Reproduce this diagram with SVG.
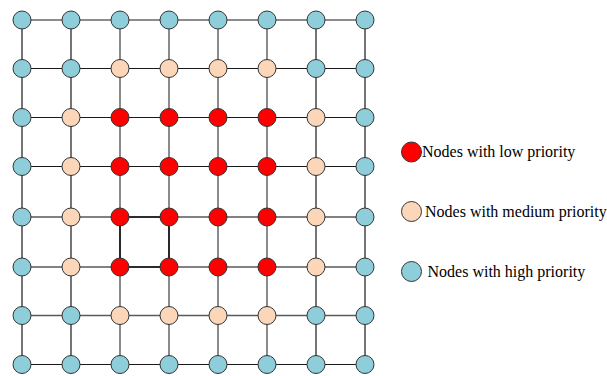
<svg xmlns="http://www.w3.org/2000/svg" width="607" height="376" viewBox="0 0 607 376">
  <style>
    .g { stroke: #1a1a1a; stroke-width: 1.2; fill: none; }
    .gl { stroke: #5a5a5a; stroke-width: 1.4; fill: none; }
    .sq { stroke: #111; stroke-width: 1.6; fill: none; }
    .n { stroke: #333; stroke-width: 1; }
    .hi { fill: #8ECDDA; }
    .me { fill: #FBD6B8; }
    .lo { fill: #FF0000; }
    .lbl { font-family: "Liberation Serif", "Times New Roman", serif; font-size: 16px; fill: #000; }
  </style>

  <!-- grid connectors -->
  <g id="connectors">
    <!-- horizontal lines -->
    <path class="g" d="M22 20H365 M22 68.5H365 M22 117.5H365 M22 166.5H365 M22 364.5H365"/>
    <path class="gl" d="M22 217H365 M22 267H365 M22 315.5H365"/>
    <!-- vertical lines -->
    <path class="g" d="M22 20V364.5 M71 20V364.5 M316 20V364.5 M365 20V364.5"/>
    <path class="gl" d="M120 20V364.5 M169 20V364.5 M218 20V364.5 M267 20V364.5"/>
    <!-- highlighted cell -->
    <path class="sq" d="M120 217H169V267H120Z"/>
  </g>

  <!-- nodes: row-major, r{row}c{col} -->
  <g id="nodes">
    <!-- row 0 -->
    <g id="r0c0"><circle class="n hi" cx="22" cy="20" r="9"/></g>
    <g id="r0c1"><circle class="n hi" cx="71" cy="20" r="9"/></g>
    <g id="r0c2"><circle class="n hi" cx="120" cy="20" r="9"/></g>
    <g id="r0c3"><circle class="n hi" cx="169" cy="20" r="9"/></g>
    <g id="r0c4"><circle class="n hi" cx="218" cy="20" r="9"/></g>
    <g id="r0c5"><circle class="n hi" cx="267" cy="20" r="9"/></g>
    <g id="r0c6"><circle class="n hi" cx="316" cy="20" r="9"/></g>
    <g id="r0c7"><circle class="n hi" cx="365" cy="20" r="9"/></g>
    <!-- row 1 -->
    <g id="r1c0"><circle class="n hi" cx="22" cy="68.5" r="9"/></g>
    <g id="r1c1"><circle class="n hi" cx="71" cy="68.5" r="9"/></g>
    <g id="r1c2"><circle class="n me" cx="120" cy="68.5" r="9"/></g>
    <g id="r1c3"><circle class="n me" cx="169" cy="68.5" r="9"/></g>
    <g id="r1c4"><circle class="n me" cx="218" cy="68.5" r="9"/></g>
    <g id="r1c5"><circle class="n me" cx="267" cy="68.5" r="9"/></g>
    <g id="r1c6"><circle class="n hi" cx="316" cy="68.5" r="9"/></g>
    <g id="r1c7"><circle class="n hi" cx="365" cy="68.5" r="9"/></g>
    <!-- row 2 -->
    <g id="r2c0"><circle class="n hi" cx="22" cy="117.5" r="9"/></g>
    <g id="r2c1"><circle class="n me" cx="71" cy="117.5" r="9"/></g>
    <g id="r2c2"><circle class="n lo" cx="120" cy="117.5" r="9"/></g>
    <g id="r2c3"><circle class="n lo" cx="169" cy="117.5" r="9"/></g>
    <g id="r2c4"><circle class="n lo" cx="218" cy="117.5" r="9"/></g>
    <g id="r2c5"><circle class="n lo" cx="267" cy="117.5" r="9"/></g>
    <g id="r2c6"><circle class="n me" cx="316" cy="117.5" r="9"/></g>
    <g id="r2c7"><circle class="n hi" cx="365" cy="117.5" r="9"/></g>
    <!-- row 3 -->
    <g id="r3c0"><circle class="n hi" cx="22" cy="166.5" r="9"/></g>
    <g id="r3c1"><circle class="n me" cx="71" cy="166.5" r="9"/></g>
    <g id="r3c2"><circle class="n lo" cx="120" cy="166.5" r="9"/></g>
    <g id="r3c3"><circle class="n lo" cx="169" cy="166.5" r="9"/></g>
    <g id="r3c4"><circle class="n lo" cx="218" cy="166.5" r="9"/></g>
    <g id="r3c5"><circle class="n lo" cx="267" cy="166.5" r="9"/></g>
    <g id="r3c6"><circle class="n me" cx="316" cy="166.5" r="9"/></g>
    <g id="r3c7"><circle class="n hi" cx="365" cy="166.5" r="9"/></g>
    <!-- row 4 -->
    <g id="r4c0"><circle class="n hi" cx="22" cy="217" r="9"/></g>
    <g id="r4c1"><circle class="n me" cx="71" cy="217" r="9"/></g>
    <g id="r4c2"><circle class="n lo" cx="120" cy="217" r="9"/></g>
    <g id="r4c3"><circle class="n lo" cx="169" cy="217" r="9"/></g>
    <g id="r4c4"><circle class="n lo" cx="218" cy="217" r="9"/></g>
    <g id="r4c5"><circle class="n lo" cx="267" cy="217" r="9"/></g>
    <g id="r4c6"><circle class="n me" cx="316" cy="217" r="9"/></g>
    <g id="r4c7"><circle class="n hi" cx="365" cy="217" r="9"/></g>
    <!-- row 5 -->
    <g id="r5c0"><circle class="n hi" cx="22" cy="267" r="9"/></g>
    <g id="r5c1"><circle class="n me" cx="71" cy="267" r="9"/></g>
    <g id="r5c2"><circle class="n lo" cx="120" cy="267" r="9"/></g>
    <g id="r5c3"><circle class="n lo" cx="169" cy="267" r="9"/></g>
    <g id="r5c4"><circle class="n lo" cx="218" cy="267" r="9"/></g>
    <g id="r5c5"><circle class="n lo" cx="267" cy="267" r="9"/></g>
    <g id="r5c6"><circle class="n me" cx="316" cy="267" r="9"/></g>
    <g id="r5c7"><circle class="n hi" cx="365" cy="267" r="9"/></g>
    <!-- row 6 -->
    <g id="r6c0"><circle class="n hi" cx="22" cy="315.5" r="9"/></g>
    <g id="r6c1"><circle class="n hi" cx="71" cy="315.5" r="9"/></g>
    <g id="r6c2"><circle class="n me" cx="120" cy="315.5" r="9"/></g>
    <g id="r6c3"><circle class="n me" cx="169" cy="315.5" r="9"/></g>
    <g id="r6c4"><circle class="n me" cx="218" cy="315.5" r="9"/></g>
    <g id="r6c5"><circle class="n me" cx="267" cy="315.5" r="9"/></g>
    <g id="r6c6"><circle class="n hi" cx="316" cy="315.5" r="9"/></g>
    <g id="r6c7"><circle class="n hi" cx="365" cy="315.5" r="9"/></g>
    <!-- row 7 -->
    <g id="r7c0"><circle class="n hi" cx="22" cy="364.5" r="9"/></g>
    <g id="r7c1"><circle class="n hi" cx="71" cy="364.5" r="9"/></g>
    <g id="r7c2"><circle class="n hi" cx="120" cy="364.5" r="9"/></g>
    <g id="r7c3"><circle class="n hi" cx="169" cy="364.5" r="9"/></g>
    <g id="r7c4"><circle class="n hi" cx="218" cy="364.5" r="9"/></g>
    <g id="r7c5"><circle class="n hi" cx="267" cy="364.5" r="9"/></g>
    <g id="r7c6"><circle class="n hi" cx="316" cy="364.5" r="9"/></g>
    <g id="r7c7"><circle class="n hi" cx="365" cy="364.5" r="9"/></g>
  </g>

  <!-- legend -->
  <g id="legend-low">
    <circle class="n lo" cx="411.5" cy="152" r="10"/>
    <text class="lbl" x="422" y="157">Nodes with low priority</text>
  </g>
  <g id="legend-medium">
    <circle class="n me" cx="411.5" cy="211.5" r="10"/>
    <text class="lbl" x="425" y="217">Nodes with medium priority</text>
  </g>
  <g id="legend-high">
    <circle class="n hi" cx="411.5" cy="271.5" r="10"/>
    <text class="lbl" x="427.5" y="276.5">Nodes with high priority</text>
  </g>
</svg>
